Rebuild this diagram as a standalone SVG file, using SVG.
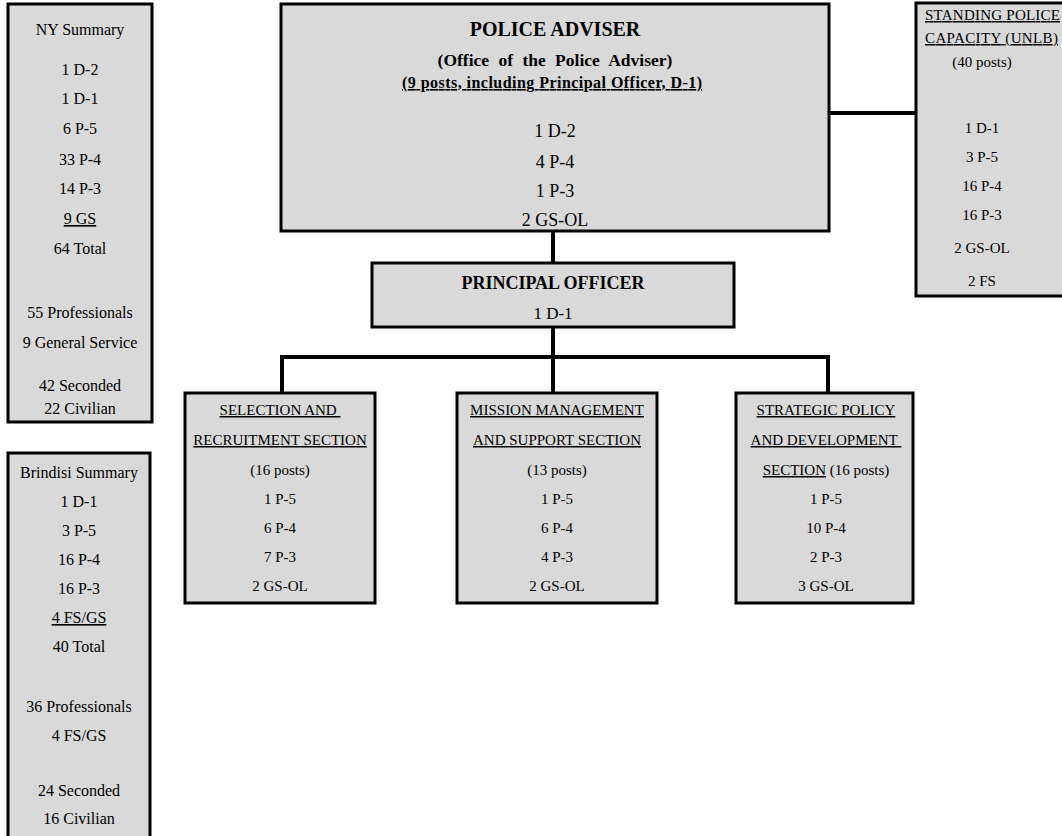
<svg xmlns="http://www.w3.org/2000/svg" width="1062" height="836" viewBox="0 0 1062 836">
<style>
.box{fill:#d9d9d9;stroke:#000;stroke-width:3}
.t{font-family:"Liberation Serif","Times New Roman",serif;font-size:15px;fill:#000;text-anchor:middle}
.s{font-size:16px}
.g{font-size:18px}
.b{font-weight:bold}
.u{text-decoration:underline}
.l{text-anchor:start}
.c{fill:none;stroke:#000;stroke-width:4}
</style>
<rect width="1062" height="836" fill="#fff"/>
<g id="connectors">
<line class="c" x1="553" y1="231" x2="553" y2="263"/>
<line class="c" x1="829" y1="113" x2="916" y2="113"/>
<line class="c" x1="553" y1="327" x2="553" y2="393"/>
<polyline class="c" points="282,393 282,357 828,357 828,393"/>
</g>
<g id="ny-summary">
<rect class="box" x="8" y="4" width="144" height="418"/>
<text class="t s" x="80" y="35">NY Summary</text>
<text class="t s" x="80" y="75">1 D-2</text>
<text class="t s" x="80" y="104">1 D-1</text>
<text class="t s" x="80" y="134">6 P-5</text>
<text class="t s" x="80" y="165">33 P-4</text>
<text class="t s" x="80" y="194">14 P-3</text>
<text class="t s u" x="80" y="224">9 GS</text>
<text class="t s" x="80" y="254">64 Total</text>
<text class="t s" x="80" y="318">55 Professionals</text>
<text class="t s" x="80" y="348">9 General Service</text>
<text class="t s" x="80" y="391">42 Seconded</text>
<text class="t s" x="80" y="414">22 Civilian</text>
</g>
<g id="brindisi-summary">
<rect class="box" x="8" y="453" width="142" height="400"/>
<text class="t s" x="79" y="478">Brindisi Summary</text>
<text class="t s" x="79" y="507">1 D-1</text>
<text class="t s" x="79" y="536">3 P-5</text>
<text class="t s" x="79" y="565">16 P-4</text>
<text class="t s" x="79" y="594">16 P-3</text>
<text class="t s u" x="79" y="623">4 FS/GS</text>
<text class="t s" x="79" y="652">40 Total</text>
<text class="t s" x="79" y="712">36 Professionals</text>
<text class="t s" x="79" y="741">4 FS/GS</text>
<text class="t s" x="79" y="796">24 Seconded</text>
<text class="t s" x="79" y="824">16 Civilian</text>
</g>
<g id="police-adviser">
<rect class="box" x="281" y="4" width="548" height="227"/>
<text class="t b" x="555" y="36" style="font-size:20px">POLICE ADVISER</text>
<text class="t b" x="555" y="66" style="font-size:17.5px;word-spacing:5px">(Office of the Police Adviser)</text>
<text class="t b u" x="552" y="88" style="font-size:16px" textLength="300" lengthAdjust="spacing">(9 posts, including Principal Officer, D-1)</text>
<text class="t g" x="555" y="137">1 D-2</text>
<text class="t g" x="555" y="168">4 P-4</text>
<text class="t g" x="555" y="197">1 P-3</text>
<text class="t g" x="555" y="226">2 GS-OL</text>
</g>
<g id="standing-police">
<rect class="box" x="916" y="3" width="200" height="293"/>
<text class="t u l" x="925" y="20" textLength="135" lengthAdjust="spacing">STANDING POLICE</text>
<text class="t u l" x="925" y="43" textLength="133" lengthAdjust="spacing">CAPACITY (UNLB)</text>
<text class="t" x="982" y="67">(40 posts)</text>
<text class="t" x="982" y="133">1 D-1</text>
<text class="t" x="982" y="162">3 P-5</text>
<text class="t" x="982" y="191">16 P-4</text>
<text class="t" x="982" y="220">16 P-3</text>
<text class="t" x="982" y="253">2 GS-OL</text>
<text class="t" x="982" y="286">2 FS</text>
</g>
<g id="principal-officer">
<rect class="box" x="372" y="263" width="362" height="64"/>
<text class="t b" x="553" y="289" style="font-size:18px">PRINCIPAL OFFICER</text>
<text class="t g" x="553" y="319" style="font-size:17px">1 D-1</text>
</g>
<g id="selection-recruitment">
<rect class="box" x="185" y="393" width="190" height="210"/>
<text class="t u" x="280" y="415">SELECTION AND&#160;</text>
<text class="t u" x="280" y="445">RECRUITMENT SECTION</text>
<text class="t" x="280" y="475">(16 posts)</text>
<text class="t" x="280" y="504">1 P-5</text>
<text class="t" x="280" y="533">6 P-4</text>
<text class="t" x="280" y="562">7 P-3</text>
<text class="t" x="280" y="591">2 GS-OL</text>
</g>
<g id="mission-management">
<rect class="box" x="457" y="393" width="200" height="210"/>
<text class="t u" x="557" y="415">MISSION MANAGEMENT</text>
<text class="t u" x="557" y="445">AND SUPPORT SECTION</text>
<text class="t" x="557" y="475">(13 posts)</text>
<text class="t" x="557" y="504">1 P-5</text>
<text class="t" x="557" y="533">6 P-4</text>
<text class="t" x="557" y="562">4 P-3</text>
<text class="t" x="557" y="591">2 GS-OL</text>
</g>
<g id="strategic-policy">
<rect class="box" x="736" y="393" width="177" height="210"/>
<text class="t u" x="826" y="415">STRATEGIC POLICY</text>
<text class="t u" x="826" y="445">AND DEVELOPMENT&#160;</text>
<text class="t" x="826" y="475"><tspan class="u">SECTION</tspan> (16 posts)</text>
<text class="t" x="826" y="504">1 P-5</text>
<text class="t" x="826" y="533">10 P-4</text>
<text class="t" x="826" y="562">2 P-3</text>
<text class="t" x="826" y="591">3 GS-OL</text>
</g>
</svg>
